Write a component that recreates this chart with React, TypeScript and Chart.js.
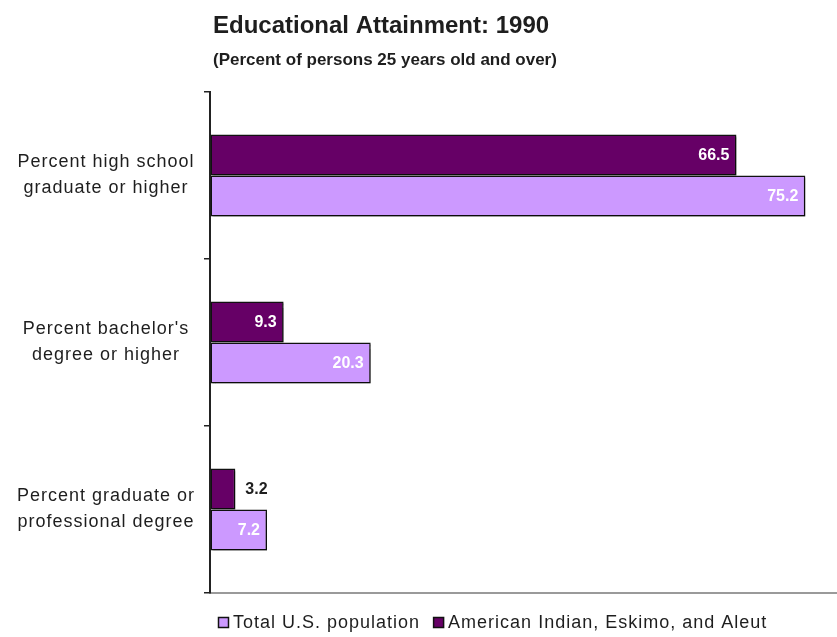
import React, { useEffect, useRef } from 'react';
import { Chart, registerables } from 'chart.js';

Chart.register(...registerables);

const categories: string[][] = [
  ['Percent high school', 'graduate or higher'],
  ["Percent bachelor's", 'degree or higher'],
  ['Percent graduate or', 'professional degree'],
];
const aianValues = [66.5, 9.3, 3.2];
const totalValues = [75.2, 20.3, 7.2];
const aianName = 'American Indian, Eskimo, and Aleut';
const totalName = 'Total U.S. population';
const titleText = 'Educational Attainment: 1990';
const subtitleText = '(Percent of persons 25 years old and over)';
const xMax = 79.2;

const DARK = '#660066';
const LIGHT = '#CC99FF';
const TEXT = '#1e1e1e';
const FONT = '"Liberation Sans", Arial, sans-serif';

const textPlugin = {
  id: 'customText',
  beforeDatasetsDraw(chart: any) {
    const ctx = chart.ctx;
    ctx.save();
    ctx.shadowColor = 'rgba(0,0,0,0.35)';
    ctx.shadowOffsetX = 2;
    ctx.shadowOffsetY = 2;
    ctx.shadowBlur = 1;
  },
  afterDatasetsDraw(chart: any) {
    chart.ctx.restore();
  },
  afterDraw(chart: any) {
    const ctx = chart.ctx as CanvasRenderingContext2D;
    const area = chart.chartArea;
    const yScale = chart.scales.y;
    ctx.save();
    // titles
    ctx.fillStyle = TEXT;
    ctx.textAlign = 'left';
    ctx.textBaseline = 'alphabetic';
    ctx.font = `bold 24px ${FONT}`;
    ctx.fillText(titleText, area.left + 3, 33);
    ctx.font = `bold 17px ${FONT}`;
    ctx.fillText(subtitleText, area.left + 3, 65);

    // category labels
    (ctx as any).letterSpacing = '1px';
    ctx.font = `18px ${FONT}`;
    ctx.textAlign = 'center';
    ctx.textBaseline = 'middle';
    const lh = 26;
    categories.forEach((lines, i) => {
      const cy = yScale.getPixelForValue(i);
      const cx = 106;
      lines.forEach((ln, k) => {
        const y = cy + (k - (lines.length - 1) / 2) * lh;
        ctx.fillText(ln, cx, y);
      });
    });

    // legend
    ctx.textAlign = 'left';
    ctx.textBaseline = 'alphabetic';
    const legendItems = [
      { name: totalName, color: LIGHT },
      { name: aianName, color: DARK },
    ];
    let lx = area.left + 8;
    const baseY = 628;
    legendItems.forEach((it) => {
      ctx.fillStyle = it.color;
      ctx.fillRect(lx + 0.5, baseY - 10.5, 10, 10);
      ctx.strokeStyle = '#111';
      ctx.lineWidth = 1.5;
      ctx.strokeRect(lx + 0.5, baseY - 10.5, 10, 10);
      ctx.fillStyle = TEXT;
      const tx = lx + 15;
      ctx.fillText(it.name, tx, baseY);
      lx = tx + ctx.measureText(it.name).width + 13;
    });
    (ctx as any).letterSpacing = '0px';

    // data labels
    ctx.font = `bold 16px ${FONT}`;
    ctx.textBaseline = 'middle';
    chart.data.datasets.forEach((ds: any, di: number) => {
      const meta = chart.getDatasetMeta(di);
      meta.data.forEach((bar: any, j: number) => {
        const v = ds.data[j];
        const label = v.toFixed(1);
        const w = ctx.measureText(label).width;
        const barLen = bar.x - bar.base;
        if (barLen > w + 14) {
          ctx.textAlign = 'right';
          ctx.fillStyle = '#ffffff';
          ctx.fillText(label, bar.x - 7, bar.y + 1);
        } else {
          ctx.textAlign = 'left';
          ctx.fillStyle = TEXT;
          ctx.fillText(label, bar.x + 10, bar.y + 1);
        }
      });
    });
    ctx.restore();
  },
};

export default function App() {
  const ref = useRef<HTMLCanvasElement | null>(null);
  useEffect(() => {
    if (!ref.current) return;
    const chart = new Chart(ref.current, {
      type: 'bar',
      data: {
        labels: categories.map((c) => c.join(' ')),
        datasets: [
          {
            label: aianName,
            data: aianValues,
            backgroundColor: DARK,
            borderColor: '#111',
            borderWidth: 1.5,
            borderSkipped: false,
            categoryPercentage: 0.49,
            barPercentage: 1,
          },
          {
            label: totalName,
            data: totalValues,
            backgroundColor: LIGHT,
            borderColor: '#111',
            borderWidth: 1.5,
            borderSkipped: false,
            categoryPercentage: 0.49,
            barPercentage: 1,
          },
        ],
      },
      options: {
        indexAxis: 'y',
        animation: false,
        responsive: true,
        maintainAspectRatio: false,
        layout: { padding: { top: 92, bottom: 44, left: 0, right: 0 } },
        plugins: {
          legend: { display: false },
          title: { display: false },
          tooltip: { enabled: false },
        },
        scales: {
          x: {
            min: 0,
            max: xMax,
            ticks: { display: false },
            grid: { display: true, drawOnChartArea: false, drawTicks: false },
            border: { display: true, color: '#9a9a9a', width: 2 },
            afterFit: (s: any) => {
              s.height = 0;
            },
          },
          y: {
            type: 'category',
            offset: true,
            ticks: { display: false },
            grid: {
              display: true,
              offset: true,
              drawOnChartArea: false,
              drawTicks: true,
              tickLength: 6,
              color: '#222',
              lineWidth: 1.5,
            },
            border: { display: true, color: '#222', width: 2 },
            afterFit: (s: any) => {
              s.width = 210;
            },
          },
        },
      },
      plugins: [textPlugin],
    });
    return () => chart.destroy();
  }, []);
  return (
    <div style={{ position: 'fixed', left: 0, top: 0, width: 837, height: 637, background: '#fff' }}>
      <canvas ref={ref} />
    </div>
  );
}
